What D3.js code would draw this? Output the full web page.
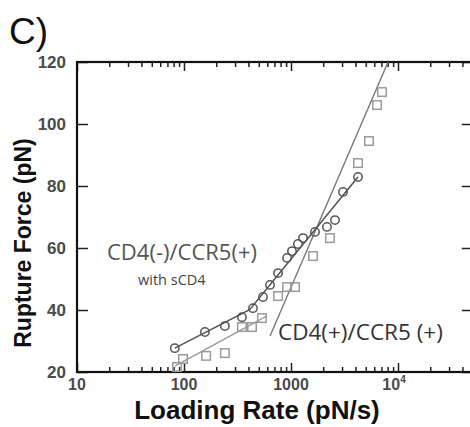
<!DOCTYPE html>
<html><head><meta charset="utf-8">
<script src="https://cdn.jsdelivr.net/npm/d3@7"></script>
<style>
html,body{margin:0;padding:0;background:#fff;}
svg{display:block;}
</style></head>
<body>
<script>
// ---- data ----
const circleRate  = [82, 157, 241, 348, 441, 547, 636, 757, 919, 1022, 1162, 1295, 1675, 2168, 2576, 3062, 4227];
const circleForce = [27.7, 32.9, 34.8, 37.7, 40.6, 44.2, 48.1, 51.9, 56.8, 59.0, 61.3, 63.2, 65.2, 66.8, 69.0, 78.1, 82.9];
const squareRate  = [86, 98, 161, 241, 348, 432, 535, 757, 919, 1090, 1607, 2312, 4227, 5354, 6363, 7081];
const squareForce = [21.6, 24.2, 25.2, 26.1, 34.5, 34.5, 37.4, 44.5, 47.4, 47.4, 57.4, 63.2, 87.4, 94.5, 106.1, 110.3];
// fitted lines
const circleFitRate  = [82, 411, 4227];
const circleFitForce = [27.7, 40.1, 82.9];
const squareLowRate  = [82, 597];
const squareLowForce = [21.9, 38.1];
const squareHighRate  = [637, 8070];
const squareHighForce = [31.6, 120];
// ticks
const xMajor = [10, 100, 1000, 10000];
const xLabels = ["10", "100", "1000", "10^4"];
const yTicks = [20, 40, 60, 80, 100, 120];

const W = 470, H = 427;
const L = 77, R = 472.8, T = 62, B = 372;

const svg = d3.select("body").append("svg").attr("width", W).attr("height", H)
  .style("font-family", "'Liberation Sans', Arial, sans-serif");

const x = d3.scaleLog().domain([10, 50000]).range([L, R]);
const y = d3.scaleLinear().domain([20, 120]).range([B, T]);

const xMinor = [];
for (let d = 10; d < 50000; d *= 10) for (let k = 2; k <= 9; k++) if (d * k < 50000) xMinor.push(d * k);

// ---- axes ticks ----
function tickStyle(g){ g.select(".domain").remove(); g.selectAll("line").attr("stroke","#222").attr("stroke-width",1.5); }
svg.append("g").attr("transform",`translate(0,${B})`).call(d3.axisBottom(x).tickValues(xMinor).tickSize(-5).tickFormat("")).call(tickStyle);
svg.append("g").attr("transform",`translate(0,${B})`).call(d3.axisBottom(x).tickValues(xMajor).tickSize(-9).tickFormat("")).call(tickStyle);
svg.append("g").attr("transform",`translate(0,${T})`).call(d3.axisTop(x).tickValues(xMinor).tickSize(-5).tickFormat("")).call(tickStyle);
svg.append("g").attr("transform",`translate(0,${T})`).call(d3.axisTop(x).tickValues(xMajor).tickSize(-9).tickFormat("")).call(tickStyle);
svg.append("g").attr("transform",`translate(${L},0)`).call(d3.axisLeft(y).tickValues(yTicks).tickSize(-11).tickFormat("")).call(tickStyle);
svg.append("g").attr("transform",`translate(${R},0)`).call(d3.axisRight(y).tickValues(yTicks).tickSize(-11).tickFormat("")).call(tickStyle);

// frame
svg.append("rect").attr("x", L).attr("y", T).attr("width", R - L).attr("height", B - T)
  .attr("fill","none").attr("stroke","#111").attr("stroke-width",2.2);

// y tick labels
svg.append("g").selectAll("text").data(yTicks).join("text")
  .attr("x", L - 11).attr("y", d => y(d) + 6)
  .attr("text-anchor","end").attr("font-size",17).attr("font-weight","bold").attr("fill","#4a4a4a")
  .text(d => d);

// x tick labels
const xl = svg.append("g").selectAll("text").data(xMajor).join("text")
  .attr("x", d => x(d)).attr("y", B + 18)
  .attr("text-anchor","middle").attr("font-size",16).attr("font-weight","bold").attr("fill","#4a4a4a");
xl.each(function(d,i){
  const t = d3.select(this), lab = xLabels[i];
  if (lab.includes("^")) {
    const [b, e] = lab.split("^");
    t.attr("x", x(d) - 4);
    t.append("tspan").text(b);
    t.append("tspan").attr("dy", -7).attr("font-size", 10).text(e);
  } else t.text(lab);
});

// axis titles
svg.append("text").attr("x", 257).attr("y", 419).attr("text-anchor","middle")
  .attr("font-size",26).attr("font-weight","bold").attr("fill","#111").text("Loading Rate (pN/s)");
svg.append("text").attr("transform","translate(31,243) rotate(-90)").attr("text-anchor","middle")
  .attr("font-size",23).attr("font-weight","bold").attr("fill","#111").text("Rupture Force (pN)");

// panel label
svg.append("text").attr("x", 9).attr("y", 44).attr("font-size",37).attr("fill","#111").text("C)");

// ---- fit lines ----
const line = d3.line().x(d => x(d[0])).y(d => y(d[1]));
svg.append("path").datum(d3.zip(squareLowRate, squareLowForce)).attr("d", line)
  .attr("fill","none").attr("stroke","#9a9a9a").attr("stroke-width",1.4);
svg.append("path").datum(d3.zip(squareHighRate, squareHighForce)).attr("d", line)
  .attr("fill","none").attr("stroke","#777").attr("stroke-width",1.4);
svg.append("path").datum(d3.zip(circleFitRate, circleFitForce)).attr("d", line)
  .attr("fill","none").attr("stroke","#555").attr("stroke-width",1.6);

// ---- markers ----
const s = 8.5;
svg.append("g").selectAll("rect").data(d3.zip(squareRate, squareForce)).join("rect")
  .attr("x", d => x(d[0]) - s/2).attr("y", d => y(d[1]) - s/2).attr("width", s).attr("height", s)
  .attr("fill","none").attr("stroke","#9a9a9a").attr("stroke-width",1.5);
svg.append("g").selectAll("circle").data(d3.zip(circleRate, circleForce)).join("circle")
  .attr("cx", d => x(d[0])).attr("cy", d => y(d[1])).attr("r", 4.2)
  .attr("fill","none").attr("stroke","#555").attr("stroke-width",1.5);

// ---- annotations ----
svg.append("text").attr("x",107).attr("y",260).attr("font-family","'Open Sans', sans-serif")
  .attr("font-size",22).attr("fill","#555").text("CD4(-)/CCR5(+)");
svg.append("text").attr("x",138).attr("y",285).attr("font-family","'Open Sans', sans-serif")
  .attr("font-size",14.5).attr("fill","#444").text("with sCD4");
svg.append("text").attr("x",278).attr("y",340).attr("font-family","'Open Sans', sans-serif")
  .attr("font-size",22.5).attr("fill","#333").text("CD4(+)/CCR5 (+)");
</script>
</body></html>
